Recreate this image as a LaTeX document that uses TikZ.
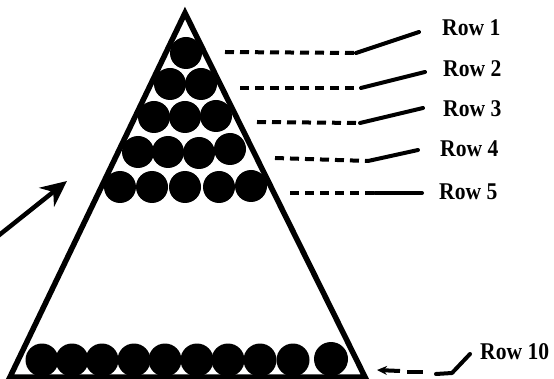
\documentclass[tikz,border=0pt]{standalone}
\usepackage{fontspec}
\setmainfont{Liberation Serif}
\newfontfamily\lblfont[FakeStretch=0.9]{Liberation Serif}
\usetikzlibrary{arrows.meta}
\begin{document}
\begin{tikzpicture}[x=1pt,y=-1pt,
  ball/.style={circle,fill=black,inner sep=0pt,minimum size=32pt},
  bigball/.style={ball,minimum size=34pt},
  tri/.style={line width=5.5pt,line join=miter},
  lead/.style={line width=4pt,dash pattern=on 9pt off 6pt},
  leadsolid/.style={line width=4pt,line cap=round},
  lbl/.style={anchor=west,inner sep=0pt,font=\lblfont\fontsize{24}{26}\selectfont\bfseries}]
\useasboundingbox (0,0) rectangle (554,379);
% triangle
\coordinate (apex) at (185,13);
\coordinate (bl) at (10,377);
\coordinate (br) at (365,377);
\draw[tri] (apex) -- (bl) -- (br) -- cycle;
% balls
\node[ball] (b11) at (186,53) {};
\node[ball] (b21) at (170,84) {};
\node[ball] (b22) at (201,84) {};
\node[ball] (b31) at (154,117) {};
\node[ball] (b32) at (185,117) {};
\node[ball] (b33) at (216,116) {};
\node[ball] (b41) at (138,152) {};
\node[ball] (b42) at (168,152) {};
\node[ball] (b43) at (199,153) {};
\node[ball] (b44) at (230,149) {};
\node[ball] (b51) at (120,187) {};
\node[ball] (b52) at (152,187) {};
\node[ball] (b53) at (185,187) {};
\node[ball] (b54) at (219,187) {};
\node[ball] (b55) at (251,186) {};
\foreach \i/\x in {1/42,2/72,3/102,4/134,5/165,6/197,7/228,8/260,9/293}
  \node[ball,minimum size=33pt] (bt\i) at (\x,360) {};
\node[bigball] (bt10) at (331,359) {};
% labels
\node[lbl] (r1) at (442,28) {Row 1};
\node[lbl] (r2) at (443,69) {Row 2};
\node[lbl] (r3) at (443,109) {Row 3};
\node[lbl] (r4) at (440,149) {Row 4};
\node[lbl] (r5) at (439,192) {Row 5};
\node[lbl] (r10) at (480,352) {Row 10};
% leader lines
\coordinate (d1a) at (225,52); \coordinate (d1b) at (356,53); \coordinate (d1c) at (419,32);
\coordinate (d2a) at (240,88); \coordinate (d2b) at (361,88); \coordinate (d2c) at (425,72);
\coordinate (d3a) at (257,122); \coordinate (d3b) at (360,123); \coordinate (d3c) at (423,108);
\coordinate (d4a) at (275,158); \coordinate (d4b) at (368,161); \coordinate (d4c) at (418,150);
\coordinate (d5a) at (290,193); \coordinate (d5b) at (375,193); \coordinate (d5c) at (422,193);
\foreach \k in {1,...,5}{
  \draw[lead] (d\k a) -- (d\k b);
  \draw[leadsolid] (d\k b) -- (d\k c);
}
% row 10 leader
\coordinate (t10a) at (377,370);
\coordinate (t10b) at (400,371);
\coordinate (t10c) at (407,372); \coordinate (t10d) at (423,372);
\coordinate (t10e) at (436,374); \coordinate (t10f) at (452,373); \coordinate (t10g) at (470,354);
\draw[line width=4pt,-{Stealth[length=10pt,width=9pt]}] (t10b) -- (t10a);
\draw[line width=4pt] (t10c) -- (t10d);
\draw[leadsolid,line join=round] (t10e) -- (t10f) -- (t10g);
% left arrow
\coordinate (la) at (-2,236);
\coordinate (lb) at (67,181);
\draw[line width=4.5pt,-{Stealth[length=26pt,width=24pt]}] (la) -- (lb);
\end{tikzpicture}
\end{document}
